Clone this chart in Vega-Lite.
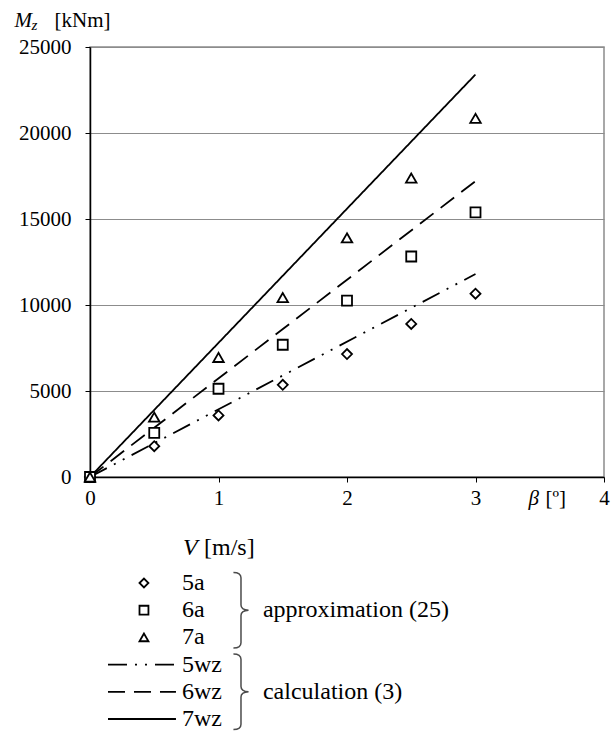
{
  "$schema": "https://vega.github.io/schema/vega-lite/v6.json",
  "background": "white",
  "padding": {"left": 13, "top": 8, "right": 5, "bottom": 0},
  "bounds": "flush",
  "spacing": 106,
  "datasets": {
    "approx": [
      {"series": "5a", "beta": 0, "Mz": 0},
      {"series": "5a", "beta": 0.5, "Mz": 1790},
      {"series": "5a", "beta": 1, "Mz": 3580},
      {"series": "5a", "beta": 1.5, "Mz": 5360},
      {"series": "5a", "beta": 2, "Mz": 7150},
      {"series": "5a", "beta": 2.5, "Mz": 8900},
      {"series": "5a", "beta": 3, "Mz": 10660},
      {"series": "6a", "beta": 0, "Mz": 0},
      {"series": "6a", "beta": 0.5, "Mz": 2560},
      {"series": "6a", "beta": 1, "Mz": 5130},
      {"series": "6a", "beta": 1.5, "Mz": 7690},
      {"series": "6a", "beta": 2, "Mz": 10260},
      {"series": "6a", "beta": 2.5, "Mz": 12820},
      {"series": "6a", "beta": 3, "Mz": 15390},
      {"series": "7a", "beta": 0, "Mz": 0},
      {"series": "7a", "beta": 0.5, "Mz": 3480},
      {"series": "7a", "beta": 1, "Mz": 6950},
      {"series": "7a", "beta": 1.5, "Mz": 10430},
      {"series": "7a", "beta": 2, "Mz": 13900},
      {"series": "7a", "beta": 2.5, "Mz": 17380},
      {"series": "7a", "beta": 3, "Mz": 20850}
    ],
    "calc": [
      {"series": "5wz", "beta": 0, "Mz": 0},
      {"series": "5wz", "beta": 3, "Mz": 11800},
      {"series": "6wz", "beta": 0, "Mz": 0},
      {"series": "6wz", "beta": 3, "Mz": 17200},
      {"series": "7wz", "beta": 0, "Mz": 0},
      {"series": "7wz", "beta": 3, "Mz": 23400}
    ],
    "legend": [
      {"series": "5a", "group": "approximation (25)"},
      {"series": "6a", "group": "approximation (25)"},
      {"series": "7a", "group": "approximation (25)"},
      {"series": "5wz", "group": "calculation (3)"},
      {"series": "6wz", "group": "calculation (3)"},
      {"series": "7wz", "group": "calculation (3)"}
    ]
  },
  "vconcat": [
    {
      "width": 514,
      "height": 430,
      "view": {"stroke": "#8c8c8c", "strokeWidth": 1.5},
      "resolve": {"axis": {"x": "independent", "y": "independent"}},
      "layer": [
        {
          "data": {"name": "calc"},
          "mark": {"type": "line", "color": "black", "strokeWidth": 1.8},
          "encoding": {
            "x": {
              "field": "beta", "type": "quantitative",
              "scale": {"domain": [0, 4], "nice": false, "zero": true},
              "axis": {
                "orient": "bottom", "values": [0, 1, 2, 3, 4], "format": "d", "labelFlush": false,
                "labelPadding": 5, "tickSize": 5, "tickColor": "black", "tickWidth": 1,
                "domainColor": "black", "domainWidth": 1.5, "grid": false,
                "title": "β", "titleFontStyle": "italic", "titleX": 438, "titleY": 27,
                "titleAlign": "left", "titleBaseline": "alphabetic", "titleAngle": 0
              }
            },
            "y": {
              "field": "Mz", "type": "quantitative",
              "scale": {"domain": [0, 25000], "nice": false},
              "axis": {
                "orient": "left", "values": [0, 5000, 10000, 15000, 20000, 25000], "format": "d",
                "grid": true, "gridColor": "#8c8c8c", "gridWidth": 1,
                "domainColor": "black", "domainWidth": 1.5, "tickColor": "black", "tickSize": 5,
                "labelPadding": 14,
                "title": "M", "titleFontStyle": "italic", "titleX": -76, "titleY": -21,
                "titleAlign": "left", "titleBaseline": "alphabetic", "titleAngle": 0
              }
            },
            "strokeDash": {
              "field": "series", "type": "nominal",
              "scale": {"domain": ["5wz", "6wz", "7wz"], "range": [[19, 8, 2, 8, 2, 8], [17, 9], [1, 0]]},
              "legend": null
            }
          }
        },
        {
          "data": {"name": "approx"},
          "transform": [{"filter": "datum.series !== '7a'"}],
          "mark": {"type": "point", "filled": false, "color": "black", "fill": "white", "fillOpacity": 1, "strokeWidth": 1.8, "size": 100, "opacity": 1},
          "encoding": {
            "x": {
              "field": "beta", "type": "quantitative",
              "axis": {
                "orient": "bottom", "labels": false, "ticks": false, "domain": false, "grid": false,
                "title": "[º]", "titleX": 455, "titleY": 27,
                "titleAlign": "left", "titleBaseline": "alphabetic", "titleAngle": 0
              }
            },
            "y": {
              "field": "Mz", "type": "quantitative",
              "axis": {
                "orient": "left", "labels": false, "ticks": false, "domain": false, "grid": false,
                "title": "z", "titleFontStyle": "italic", "titleFontSize": 15, "titleX": -59, "titleY": -18,
                "titleAlign": "left", "titleBaseline": "alphabetic", "titleAngle": 0
              }
            },
            "shape": {
              "field": "series", "type": "nominal",
              "scale": {"domain": ["5a", "6a", "7a"], "range": ["diamond", "square", "triangle-up"]},
              "legend": null
            }
          }
        },
        {
          "data": {"name": "approx"},
          "transform": [{"filter": "datum.series === '7a'"}],
          "mark": {"type": "point", "filled": false, "color": "black", "fill": "white", "fillOpacity": 1, "strokeWidth": 1.8, "size": 110, "opacity": 1},
          "encoding": {
            "x": {"field": "beta", "type": "quantitative", "axis": null},
            "y": {
              "field": "Mz", "type": "quantitative",
              "axis": {
                "orient": "left", "labels": false, "ticks": false, "domain": false, "grid": false,
                "title": "[kNm]", "titleX": -36, "titleY": -21,
                "titleAlign": "left", "titleBaseline": "alphabetic", "titleAngle": 0
              }
            },
            "shape": {"field": "series", "type": "nominal", "legend": null}
          }
        }
      ]
    },
    {
      "width": 514,
      "height": 136,
      "view": {"stroke": null},
      "data": {"name": "legend"},
      "encoding": {
        "y": {
          "field": "series", "type": "nominal",
          "scale": {"type": "point", "domain": ["5a", "6a", "7a", "5wz", "6wz", "7wz"], "padding": 0},
          "axis": null
        }
      },
      "layer": [
        {
          "transform": [{"filter": "datum.group === 'calculation (3)'"}],
          "mark": {"type": "rule", "color": "black", "strokeWidth": 1.8},
          "encoding": {
            "x": {"datum": 0.14, "type": "quantitative", "scale": {"domain": [0, 4], "nice": false}, "axis": null},
            "x2": {"datum": 0.669},
            "strokeDash": {
              "field": "series", "type": "nominal",
              "scale": {"domain": ["5wz", "6wz", "7wz"], "range": [[19, 8, 2, 8, 2, 8], [17, 9], [1, 0]]},
              "legend": null
            }
          }
        },
        {
          "transform": [{"filter": "datum.group === 'approximation (25)'"}],
          "mark": {"type": "point", "filled": false, "color": "black", "fill": "white", "fillOpacity": 1, "strokeWidth": 1.8, "size": 80},
          "encoding": {
            "x": {"datum": 0.42, "type": "quantitative"},
            "shape": {
              "field": "series", "type": "nominal",
              "scale": {"domain": ["5a", "6a", "7a"], "range": ["diamond", "square", "triangle-up"]},
              "legend": null
            }
          }
        },
        {
          "mark": {"type": "text", "align": "left", "baseline": "middle", "fontSize": 24},
          "encoding": {
            "x": {"datum": 0.716, "type": "quantitative"},
            "text": {"field": "series"}
          }
        },
        {
          "transform": [{"filter": "datum.series === '6a' || datum.series === '6wz'"}],
          "mark": {
            "type": "point", "filled": false, "color": "black", "strokeWidth": 1.5, "size": 5700,
            "shape": "M -0.2 -1 Q 0 -1 0 -0.86 L 0 -0.14 Q 0 -0.01 0.2 0 Q 0 0.01 0 0.14 L 0 0.86 Q 0 1 -0.2 1"
          },
          "encoding": {
            "x": {"datum": 1.175, "type": "quantitative"}
          }
        },
        {
          "transform": [{"filter": "datum.series === '6a' || datum.series === '6wz'"}],
          "mark": {"type": "text", "align": "left", "baseline": "middle", "fontSize": 24},
          "encoding": {
            "x": {"datum": 1.346, "type": "quantitative"},
            "text": {"field": "group"}
          }
        },
        {
          "transform": [{"filter": "datum.series === '5a'"}],
          "mark": {"type": "text", "align": "left", "baseline": "middle", "fontSize": 24, "fontStyle": "italic", "yOffset": -35},
          "encoding": {
            "x": {"datum": 0.724, "type": "quantitative"},
            "text": {"value": "V"}
          }
        },
        {
          "transform": [{"filter": "datum.series === '5a'"}],
          "mark": {"type": "text", "align": "left", "baseline": "middle", "fontSize": 24, "yOffset": -35},
          "encoding": {
            "x": {"datum": 0.887, "type": "quantitative"},
            "text": {"value": "[m/s]"}
          }
        }
      ]
    }
  ],
  "config": {
    "font": "Liberation Serif",
    "axis": {
      "labelFont": "Liberation Serif", "labelFontSize": 21, "labelColor": "black",
      "titleFont": "Liberation Serif", "titleFontSize": 21, "titleColor": "black", "titleFontWeight": "normal"
    },
    "text": {"font": "Liberation Serif", "fontSize": 24, "color": "black"}
  }
}
